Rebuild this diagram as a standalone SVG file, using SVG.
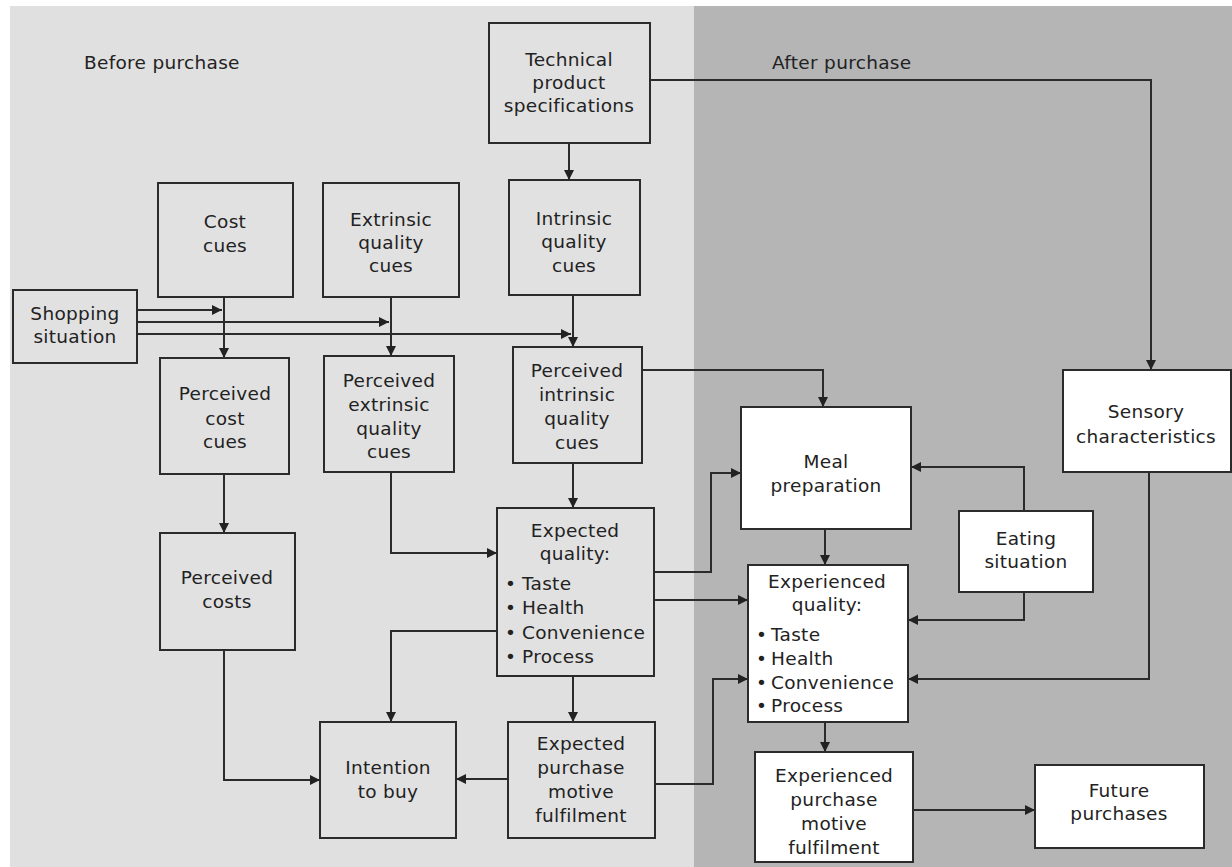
<svg xmlns="http://www.w3.org/2000/svg" width="1232" height="867" viewBox="0 0 1232 867">
<style>
.bx{fill:#e1e1e1;stroke:#2b2b2b;stroke-width:2}
.wb{fill:#ffffff;stroke:#2b2b2b;stroke-width:2}
.t{font-family:"DejaVu Sans",sans-serif;font-size:18.5px;letter-spacing:0.3px;fill:#222;text-anchor:middle}
.l{font-family:"DejaVu Sans",sans-serif;font-size:18.5px;letter-spacing:0.3px;fill:#222}
.c{fill:none;stroke:#2b2b2b;stroke-width:2}
.a{marker-end:url(#ah)}
</style>
<defs>
<marker id="ah" viewBox="0 0 10 10" refX="10" refY="5" markerWidth="10" markerHeight="10" orient="auto" markerUnits="userSpaceOnUse"><path d="M0,0 L10,5 L0,10 z" fill="#222"/></marker>
</defs>
<rect x="0" y="0" width="1232" height="867" fill="#ffffff"/>
<rect x="10" y="6" width="684" height="861" fill="#e0e0e0"/>
<rect x="694" y="6" width="538" height="861" fill="#b5b5b5"/>
<text class="l" x="84" y="69">Before purchase</text>
<text class="l" x="772" y="69">After purchase</text>

<g id="connectors">
<path class="c a" d="M569,143 V180"/>
<path class="c a" d="M650,80 H1151 V370"/>
<path class="c a" d="M224,297 V358"/>
<path class="c a" d="M391,297 V356"/>
<path class="c a" d="M573,295 V347"/>
<path class="c a" d="M137,310 H222"/>
<path class="c a" d="M137,322 H389"/>
<path class="c a" d="M137,334 H571"/>
<path class="c a" d="M224,474 V533"/>
<path class="c a" d="M224,650 V780 H320"/>
<path class="c a" d="M391,472 V553 H497"/>
<path class="c a" d="M573,463 V508"/>
<path class="c a" d="M497,631 H391 V722"/>
<path class="c a" d="M573,676 V722"/>
<path class="c a" d="M508,779 H456"/>
<path class="c a" d="M655,784 H713 V679 H748"/>
<path class="c a" d="M654,572 H711 V473 H741"/>
<path class="c a" d="M654,600 H748"/>
<path class="c a" d="M642,370 H823 V407"/>
<path class="c a" d="M825,529 V565"/>
<path class="c a" d="M1024,511 V467 H911"/>
<path class="c a" d="M1024,592 V620 H908"/>
<path class="c a" d="M1149,472 V679 H908"/>
<path class="c a" d="M825,722 V752"/>
<path class="c a" d="M913,810 H1035"/>
</g>

<g id="technical"><rect class="bx" x="489" y="23" width="161" height="120"/>
<text class="t" x="569" y="66">Technical</text><text class="t" x="569" y="89">product</text><text class="t" x="569" y="112">specifications</text></g>

<g id="cost-cues"><rect class="bx" x="158" y="183" width="135" height="114"/>
<text class="t" x="225" y="228">Cost</text><text class="t" x="225" y="252">cues</text></g>

<g id="extrinsic"><rect class="bx" x="323" y="183" width="136" height="114"/>
<text class="t" x="391" y="226">Extrinsic</text><text class="t" x="391" y="249">quality</text><text class="t" x="391" y="272">cues</text></g>

<g id="intrinsic"><rect class="bx" x="509" y="180" width="131" height="115"/>
<text class="t" x="574" y="225">Intrinsic</text><text class="t" x="574" y="248">quality</text><text class="t" x="574" y="272">cues</text></g>

<g id="shopping"><rect class="bx" x="13" y="290" width="124" height="73"/>
<text class="t" x="75" y="320">Shopping</text><text class="t" x="75" y="343">situation</text></g>

<g id="perceived-cost-cues"><rect class="bx" x="160" y="358" width="129" height="116"/>
<text class="t" x="225" y="400">Perceived</text><text class="t" x="225" y="425">cost</text><text class="t" x="225" y="448">cues</text></g>

<g id="perceived-extrinsic"><rect class="bx" x="324" y="356" width="130" height="116"/>
<text class="t" x="389" y="387">Perceived</text><text class="t" x="389" y="411">extrinsic</text><text class="t" x="389" y="435">quality</text><text class="t" x="389" y="458">cues</text></g>

<g id="perceived-intrinsic"><rect class="bx" x="513" y="347" width="129" height="116"/>
<text class="t" x="577" y="377">Perceived</text><text class="t" x="577" y="401">intrinsic</text><text class="t" x="577" y="425">quality</text><text class="t" x="577" y="449">cues</text></g>

<g id="perceived-costs"><rect class="bx" x="160" y="533" width="135" height="117"/>
<text class="t" x="227" y="584">Perceived</text><text class="t" x="227" y="608">costs</text></g>

<g id="expected-quality"><rect class="bx" x="497" y="508" width="157" height="168"/>
<text class="t" x="575" y="537">Expected</text><text class="t" x="575" y="560">quality:</text>
<text class="l" x="505" y="590">•<tspan x="522">Taste</tspan></text><text class="l" x="505" y="614">•<tspan x="522">Health</tspan></text><text class="l" x="505" y="639">•<tspan x="522">Convenience</tspan></text><text class="l" x="505" y="663">•<tspan x="522">Process</tspan></text></g>

<g id="intention"><rect class="bx" x="320" y="722" width="136" height="116"/>
<text class="t" x="388" y="774">Intention</text><text class="t" x="388" y="798">to buy</text></g>

<g id="expected-pmf"><rect class="bx" x="508" y="722" width="147" height="116"/>
<text class="t" x="581" y="750">Expected</text><text class="t" x="581" y="774">purchase</text><text class="t" x="581" y="798">motive</text><text class="t" x="581" y="822">fulfilment</text></g>

<g id="meal"><rect class="wb" x="741" y="407" width="170" height="122"/>
<text class="t" x="826" y="468">Meal</text><text class="t" x="826" y="492">preparation</text></g>

<g id="sensory"><rect class="wb" x="1063" y="370" width="168" height="102"/>
<text class="t" x="1146" y="418">Sensory</text><text class="t" x="1146" y="443">characteristics</text></g>

<g id="eating"><rect class="wb" x="959" y="511" width="134" height="81"/>
<text class="t" x="1026" y="545">Eating</text><text class="t" x="1026" y="568">situation</text></g>

<g id="experienced-quality"><rect class="wb" x="748" y="565" width="160" height="157"/>
<text class="t" x="827" y="588">Experienced</text><text class="t" x="827" y="611">quality:</text>
<text class="l" x="756" y="641">•<tspan x="771">Taste</tspan></text><text class="l" x="756" y="665">•<tspan x="771">Health</tspan></text><text class="l" x="756" y="689">•<tspan x="771">Convenience</tspan></text><text class="l" x="756" y="712">•<tspan x="771">Process</tspan></text></g>

<g id="experienced-pmf"><rect class="wb" x="755" y="752" width="158" height="110"/>
<text class="t" x="834" y="782">Experienced</text><text class="t" x="834" y="806">purchase</text><text class="t" x="834" y="830">motive</text><text class="t" x="834" y="854">fulfilment</text></g>

<g id="future"><rect class="wb" x="1035" y="765" width="169" height="83"/>
<text class="t" x="1119" y="797">Future</text><text class="t" x="1119" y="820">purchases</text></g>
</svg>
